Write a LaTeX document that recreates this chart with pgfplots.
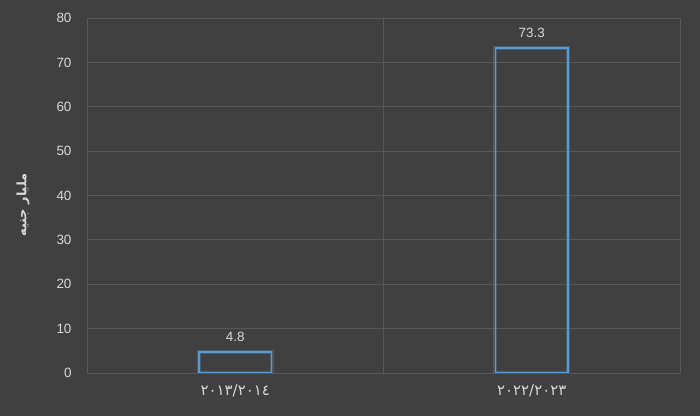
\documentclass[border=0pt]{standalone}
\usepackage{pgfplots}
\pgfplotsset{compat=1.18}
\usepackage{fontspec}
\setmainfont{Liberation Sans}
\newfontfamily\arabicfont[Script=Arabic]{DejaVu Sans}
\TeXXeTstate=1
\definecolor{bgGray}{RGB}{64,64,64}
\definecolor{gridGray}{RGB}{88,88,88}
\definecolor{txtGray}{RGB}{217,217,217}
\definecolor{barBlue}{RGB}{91,155,213}
\begin{document}
\begin{tikzpicture}
  \fill[bgGray] (0,0) rectangle (700bp,416bp);
  \useasboundingbox (0,0) rectangle (700bp,416bp);
  \begin{axis}[
    at={(87bp,43bp)}, anchor=south west,
    scale only axis,
    width=593bp, height=355bp,
    xmin=-0.5, xmax=1.5,
    ymin=0, ymax=80,
    ytick={0,10,...,80},
    xtick={0,1},
    xticklabels={{\arabicfont ٢٠١٣/٢٠١٤},{\arabicfont ٢٠٢٢/٢٠٢٣}},
    minor xtick={-0.5,0.5,1.5},
    xminorgrids, ymajorgrids,
    major grid style={draw=gridGray, line width=0.8bp},
    minor grid style={draw=gridGray, line width=0.8bp},
    axis line style={draw=none},
    major tick length=0pt, minor tick length=0pt,
    tick label style={font=\fontsize{13.5}{16}\selectfont, text=txtGray},
    xticklabel style={yshift=-8bp, font=\fontsize{15}{18}\selectfont},
    yticklabel style={xshift=-12bp},
    /pgf/number format/assume math mode=true,
    ylabel={\arabicfont\bfseries\beginR مليار جنيه\endR},
    ylabel style={font=\fontsize{13}{15}\selectfont, text=txtGray,
      at={(axis description cs:-0.108,0.473)}, anchor=center},
  ]
    \addplot[ybar, bar width=0.245, draw=barBlue, draw opacity=0.3, line width=4bp, fill=none]
      coordinates {(0,4.8) (1,73.3)};
    \addplot[ybar, bar width=0.245, draw=barBlue, line width=1.6bp, fill=none,
      nodes near coords,
      nodes near coords style={anchor=south, yshift=6bp, text=txtGray, font=\fontsize{13.5}{16}\selectfont,
        /pgf/number format/.cd, fixed, precision=1, fixed zerofill}]
      coordinates {(0,4.8) (1,73.3)};
  \end{axis}
\end{tikzpicture}
\end{document}
